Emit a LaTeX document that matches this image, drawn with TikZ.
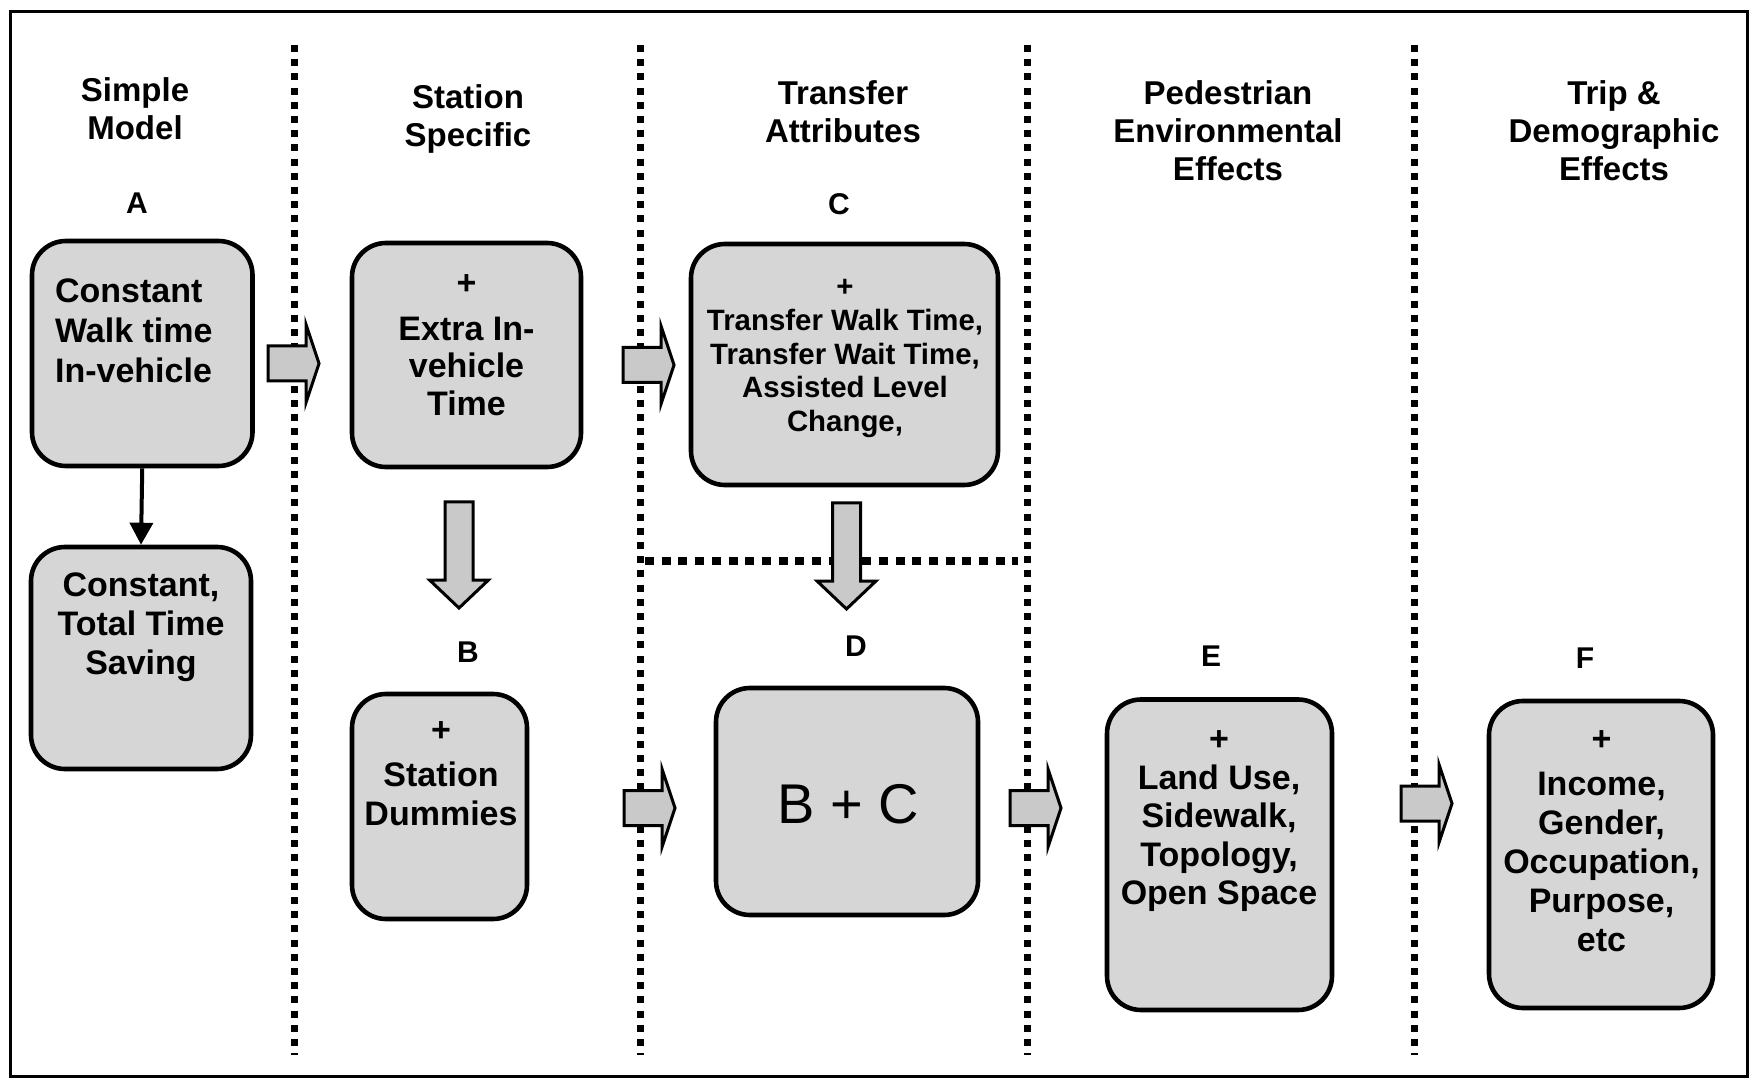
\documentclass[tikz,border=0pt]{standalone}
\usepackage{fontspec}
\setmainfont{Liberation Sans}
\usetikzlibrary{arrows.meta}
\definecolor{boxfill}{gray}{0.84}
\definecolor{arrowfill}{gray}{0.79}
\begin{document}
\begin{tikzpicture}[x=0.5pt,y=-0.5pt,
  frame/.style={line width=1.5pt},
  vsep/.style={line width=3.5pt, dash pattern=on 3.5pt off 3.6pt},
  hsep/.style={line width=4pt, dash pattern=on 4.5pt off 3.85pt},
  modelbox/.style={draw, line width=2.3pt, fill=boxfill, rounded corners=17pt, inner sep=0pt},
  header/.style={align=center, font=\bfseries\fontsize{16.5}{19}\selectfont},
  letter/.style={font=\bfseries\fontsize{15}{18}\selectfont},
  boxtext/.style={align=center, font=\bfseries\fontsize{17}{19.5}\selectfont},
  blockarrow/.style={draw, line width=1.5pt, fill=arrowfill, line join=miter},
  rblock/.pic={\draw[blockarrow] (0,-17.5) -- (38,-17.5) -- (38,-39) -- (51,0)
      -- (38,39) -- (38,17.5) -- (0,17.5) -- cycle;},
  dblock/.pic={\draw[blockarrow] (-14,0) -- (14,0) -- (14,78) -- (29.5,78) -- (0,106)
      -- (-29.5,78) -- (-14,78) -- cycle;}
]
\useasboundingbox (0,0) rectangle (1750,1079);
\draw[frame] (10,12) rectangle (1747,1076);

% column separators
\foreach \xx in {294.5,640.7,1027.5,1414}
  \draw[vsep] (\xx,45) -- (\xx,1055);
\draw[hsep] (645,561.5) -- (1018,561.5);

% column headings
\node[header] (h1) at (135,108.5) {Simple\\Model};
\node[header] (h2) at (468,118.5) {Station\\Specific};
\node[header] (h3) at (843,112) {Transfer\\Attributes};
\node[header] (h4) at (1228,131) {Pedestrian\\Environmental\\Effects};
\node[header] (h5) at (1614,131) {Trip \&\\Demographic\\Effects};

% model letters
\node[letter] (lA) at (137,203) {A};
\node[letter] (lC) at (839,204) {C};
\node[letter] (lB) at (468,652) {B};
\node[letter] (lD) at (856,646) {D};
\node[letter] (lE) at (1211,656) {E};
\node[letter] (lF) at (1585,658) {F};

% model boxes
\node[modelbox, minimum width=110.25pt, minimum height=112.5pt] (A)  at (142.25,353.5) {};
\node[modelbox, minimum width=110pt,    minimum height=111pt]   (A2) at (141,658) {};
\node[modelbox, minimum width=114.5pt,  minimum height=112pt]   (S)  at (466.5,355) {};
\node[modelbox, minimum width=87.5pt,   minimum height=112.5pt] (B)  at (439.5,806.5) {};
\node[modelbox, minimum width=153.5pt,  minimum height=120.5pt] (C)  at (844.5,364.5) {};
\node[modelbox, minimum width=131pt,    minimum height=113.5pt] (D)  at (847,801.5) {};
\node[modelbox, minimum width=112.5pt,  minimum height=155.25pt] (E) at (1219.5,854.75) {};
\node[modelbox, minimum width=112pt,    minimum height=153.5pt] (F)  at (1601,854.5) {};

% box contents
\node[boxtext, align=left, anchor=west, font=\bfseries\fontsize{17}{20}\selectfont]
  (tA) at (48,331) {Constant\\Walk time\\In-vehicle};
\node[boxtext] (tA2) at (141,627) {Constant,\\Total Time\\Saving};
\node[boxtext, font=\bfseries\fontsize{17}{18.75}\selectfont]
  (tS) at (466.5,345) {+\\[4pt]Extra In-\\vehicle\\Time};
\node[boxtext] (tB) at (441,774) {+\\[3pt]Station\\Dummies};
\node[boxtext, font=\bfseries\fontsize{14.7}{16.9}\selectfont]
  (tC) at (845,358.5) {+\\Transfer Walk Time,\\Transfer Wait Time,\\Assisted Level\\Change,};
\node[font=\fontsize{28}{32}\selectfont] (tD) at (848,804) {B + C};
\node[boxtext, font=\bfseries\fontsize{17}{19.25}\selectfont]
  (tE) at (1219,821.5) {+\\Land Use,\\Sidewalk,\\Topology,\\Open Space};
\node[boxtext] (tF) at (1601.5,841) {+\\[3pt]Income,\\Gender,\\Occupation,\\Purpose,\\etc};

% connectors
\draw[line width=2pt, -{Triangle[length=11pt, width=11.5pt]}] (A.south) -- (A2.north);

\coordinate (r1) at (268,363.5);
\coordinate (r2) at (623,365);
\coordinate (r3) at (624,808);
\coordinate (r4) at (1010,808);
\coordinate (r5) at (1401,803.5);
\coordinate (d1) at (459,502);
\coordinate (d2) at (846.5,503);
\pic at (r1) {rblock};
\pic at (r2) {rblock};
\pic at (r3) {rblock};
\pic at (r4) {rblock};
\pic at (r5) {rblock};
\pic at (d1) {dblock};
\pic at (d2) {dblock};
\end{tikzpicture}
\end{document}
